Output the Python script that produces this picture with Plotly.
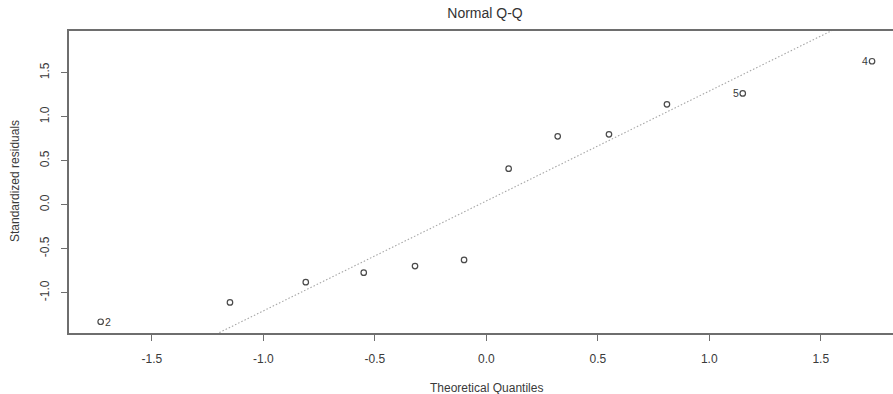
import numpy as np
import plotly.graph_objects as go

# Normal Q-Q of standardized residuals (12 observations)
theoretical = [-1.73, -1.15, -0.81, -0.55, -0.32, -0.10, 0.10, 0.32, 0.55, 0.81, 1.15, 1.73]
std_resid = [-1.33, -1.11, -0.88, -0.773, -0.697, -0.628, 0.409, 0.777, 0.80, 1.141, 1.265, 1.63]
obs_labels = ["2", "", "", "", "", "", "", "", "", "", "5", "4"]

x_ticks = [-1.5, -1.0, -0.5, 0.0, 0.5, 1.0, 1.5]
y_ticks = [-1.0, -0.5, 0.0, 0.5, 1.0, 1.5]

# qqline: through the first and third quartiles
q1, q3 = np.quantile(std_resid, [0.25, 0.75])
z1, z3 = -0.6744897501960817, 0.6744897501960817
slope = (q3 - q1) / (z3 - z1)
intercept = q1 - slope * z1

x_range = [-1.872, 1.824]
y_range = [-1.458, 1.974]

text_col = "#3a3a3a"
axis_col = "#6e6e6e"
font_family = "Liberation Sans, Arial, sans-serif"

fig = go.Figure()

line_x = np.array([-3.0, 3.0])
fig.add_trace(go.Scatter(
    x=line_x, y=intercept + slope * line_x, mode="lines",
    line=dict(color="#a6a6a6", width=1.1, dash="1.5px,2px"),
    hoverinfo="skip", showlegend=False,
))

fig.add_trace(go.Scatter(
    x=theoretical, y=std_resid, mode="markers",
    marker=dict(symbol="circle-open", size=5.5, color="#4a4a4a",
                line=dict(width=1.2, color="#4a4a4a")),
    showlegend=False,
))

# Observation labels for the largest residuals
for xv, yv, lab in zip(theoretical, std_resid, obs_labels):
    if not lab:
        continue
    side_right = xv < 0
    fig.add_annotation(
        x=xv, y=yv, text=lab, showarrow=False,
        xanchor="left" if side_right else "right",
        xshift=2 if side_right else -2,
        font=dict(size=10.5, color=text_col, family=font_family),
    )

fig.update_xaxes(
    range=x_range, tickvals=x_ticks,
    ticktext=[f"{v:.1f}" for v in x_ticks],
    showgrid=False, zeroline=False,
    showline=True, mirror=True, linecolor=axis_col, linewidth=1.5,
    ticks="outside", ticklen=6, tickwidth=1.2, tickcolor=axis_col,
    tickfont=dict(size=12, color=text_col, family=font_family),
    ticklabelstandoff=8,
)
fig.update_yaxes(
    range=y_range, tickvals=y_ticks,
    ticktext=[f"{v:.1f}" for v in y_ticks],
    showgrid=False, zeroline=False,
    showline=True, mirror=False, linecolor=axis_col, linewidth=1.5,
    ticks="outside", ticklen=6, tickwidth=1.2, tickcolor=axis_col,
    tickangle=-90,
    tickfont=dict(size=12, color=text_col, family=font_family),
    ticklabelstandoff=7,
)

fig.add_annotation(
    text="Theoretical Quantiles", xref="paper", yref="paper",
    x=(486 - 69) / (893 - 69), y=-(388 - 333) / (333 - 31),
    xanchor="center", yanchor="middle", showarrow=False,
    font=dict(size=12, color=text_col, family=font_family),
)
fig.add_annotation(
    text="Standardized residuals", xref="paper", yref="paper",
    x=-(69 - 15) / (893 - 69), y=(333 - 181) / (333 - 31),
    xanchor="center", yanchor="middle", textangle=-90, showarrow=False,
    font=dict(size=12, color=text_col, family=font_family),
)

fig.update_layout(
    width=893, height=394,
    margin=dict(l=69, r=0, t=31, b=61),
    paper_bgcolor="white", plot_bgcolor="white",
    title=dict(
        text="Normal Q-Q", xref="container", yref="container",
        x=485 / 893, y=1 - 13 / 394, xanchor="center", yanchor="middle",
        font=dict(size=14, color="#333333", family=font_family),
    ),
    showlegend=False,
)

fig.write_html("out.html")
